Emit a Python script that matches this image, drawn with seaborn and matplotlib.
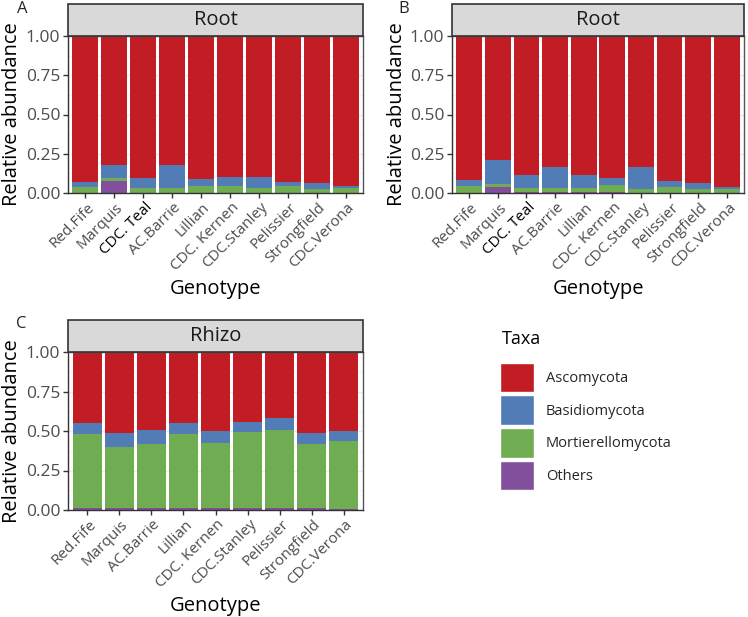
import numpy as np
import pandas as pd
import matplotlib
matplotlib.use("Agg")
import matplotlib.pyplot as plt
import matplotlib.transforms as mtransforms
from matplotlib.patches import Rectangle, Patch
import seaborn as sns

# Genotype order per panel
genotypes_root = ["Red.Fife", "Marquis", "CDC. Teal", "AC.Barrie", "Lillian",
                  "CDC. Kernen", "CDC.Stanley", "Pelissier", "Strongfield", "CDC.Verona"]
genotypes_rhizo = ["Red.Fife", "Marquis", "AC.Barrie", "Lillian", "CDC. Kernen",
                   "CDC.Stanley", "Pelissier", "Strongfield", "CDC.Verona"]

taxa = ["Ascomycota", "Basidiomycota", "Mortierellomycota", "Others"]
taxa_colors = ["#C21D24", "#517CB5", "#70AC52", "#814F9B"]

# Panel A - Root
a_asco = [0.927, 0.822, 0.905, 0.822, 0.911, 0.900, 0.898, 0.930, 0.934, 0.953]
a_basid = [0.036, 0.085, 0.060, 0.146, 0.047, 0.058, 0.072, 0.028, 0.043, 0.015]
a_mort = [0.034, 0.018, 0.032, 0.029, 0.039, 0.039, 0.027, 0.040, 0.021, 0.030]
a_other = [0.003, 0.075, 0.003, 0.003, 0.003, 0.003, 0.003, 0.002, 0.002, 0.002]

# Panel B - Root
b_asco = [0.919, 0.790, 0.885, 0.834, 0.883, 0.907, 0.837, 0.926, 0.938, 0.964]
b_basid = [0.039, 0.153, 0.081, 0.134, 0.085, 0.044, 0.140, 0.036, 0.039, 0.013]
b_mort = [0.039, 0.021, 0.029, 0.024, 0.027, 0.044, 0.020, 0.036, 0.021, 0.021]
b_other = [0.003, 0.036, 0.005, 0.008, 0.005, 0.005, 0.003, 0.002, 0.002, 0.002]

# Panel C - Rhizo
c_asco = [0.451, 0.511, 0.496, 0.447, 0.498, 0.441, 0.417, 0.511, 0.498]
c_basid = [0.066, 0.089, 0.084, 0.070, 0.078, 0.065, 0.075, 0.074, 0.066]
c_mort = [0.473, 0.390, 0.408, 0.469, 0.412, 0.484, 0.493, 0.405, 0.432]
c_other = [0.010, 0.010, 0.012, 0.014, 0.012, 0.010, 0.015, 0.010, 0.004]

sns.set_theme(style="ticks")
plt.rcParams["font.family"] = ["Open Sans", "DejaVu Sans"]

W, H = 748, 617
fig = plt.figure(figsize=(W / 100, H / 100), dpi=100)


def px_axes(left, top, right, bottom):
    return fig.add_axes([left / W, 1 - bottom / H, (right - left) / W, (bottom - top) / H])


def stacked(ax, genos, asco, basid, mort, other, strip_label, letter, black_label=None):
    df = pd.DataFrame({"Genotype": genos, "Ascomycota": asco, "Basidiomycota": basid,
                       "Mortierellomycota": mort, "Others": other})
    # cumulative tops, drawn from the tallest layer down
    layers = [taxa[::-1][: i + 1] for i in range(4)][::-1]
    for layer, col in zip(layers, taxa_colors):
        df["top"] = df[layer].sum(axis=1)
        sns.barplot(data=df, x="Genotype", y="top", order=genos, color=col,
                    saturation=1, width=0.9, linewidth=0, ax=ax, zorder=2)

    n = len(genos)
    ax.set_xlim(-0.6, n - 0.4)
    ax.set_ylim(0, 1)
    ax.set_yticks([0, 0.25, 0.5, 0.75, 1.0])
    ax.set_yticklabels(["0.00", "0.25", "0.50", "0.75", "1.00"])
    ax.set_yticks([0.125, 0.375, 0.625, 0.875], minor=True)
    ax.grid(True, which="major", color="#EBEBEB", linewidth=1, zorder=0)
    ax.grid(True, which="minor", axis="y", color="#F3F3F3", linewidth=0.6, zorder=0)
    ax.set_axisbelow(True)
    ax.tick_params(axis="both", which="major", length=3.6, width=1, color="#333333",
                   labelcolor="#4D4D4D")
    ax.tick_params(axis="y", labelsize=12.5, pad=2)
    ax.tick_params(axis="y", which="minor", length=0)
    ax.tick_params(axis="x", labelsize=11, pad=7)
    shift = mtransforms.ScaledTranslation(9 / 100, 0, fig.dpi_scale_trans)
    for lab in ax.get_xticklabels():
        lab.set_rotation(45)
        lab.set_ha("right")
        lab.set_va("baseline")
        lab.set_rotation_mode("anchor")
        lab.set_transform(lab.get_transform() + shift)
        if lab.get_text() == black_label:
            lab.set_color("black")
    for side, sp in ax.spines.items():
        sp.set_visible(True)
        sp.set_color("#555555")
        sp.set_linewidth(1)
    ax.spines["left"].set_color("#333333")
    ax.spines["bottom"].set_color("#333333")

    ax.set_xlabel("Genotype", fontsize=14.5, color="black", va="center")
    ax.set_ylabel("Relative abundance", fontsize=14.5, color="black", va="center")
    ax.xaxis.set_label_coords(0.5, -0.61)
    ax.yaxis.set_label_coords(-0.19, 0.5)

    # facet strip
    h = ax.get_position().height * H
    sh = 32 / h
    ax.add_patch(Rectangle((0, 1), 1, sh, transform=ax.transAxes, clip_on=False,
                           facecolor="#D9D9D9", edgecolor="#333333", linewidth=1.2, zorder=5))
    ax.text(0.5, 1 + sh / 2, strip_label, transform=ax.transAxes, ha="center", va="center",
            fontsize=14.5, color="#1A1A1A", zorder=6)
    fig.text(letter[1] / W, 1 - letter[2] / H, letter[0], fontsize=12, ha="left", va="center")


ax_a = px_axes(68, 36, 363, 193)
stacked(ax_a, genotypes_root, a_asco, a_basid, a_mort, a_other, "Root", ("A", 17, 9), "CDC. Teal")

ax_b = px_axes(452, 36, 744, 193)
stacked(ax_b, genotypes_root, b_asco, b_basid, b_mort, b_other, "Root", ("B", 398, 9), "CDC. Teal")

ax_c = px_axes(68, 352, 363, 510)
stacked(ax_c, genotypes_rhizo, c_asco, c_basid, c_mort, c_other, "Rhizo", ("C", 16, 324))

# legend: title placed on its own, keys below it
fig.text(502 / W, 1 - 339 / H, "Taxa", fontsize=13, ha="left", va="center", color="black")
handles = [Patch(facecolor=c, edgecolor="white", linewidth=1) for c in taxa_colors]
leg = fig.legend(handles, taxa, loc="upper left", bbox_to_anchor=(494 / W, 1 - 357 / H),
                 frameon=False, fontsize=10.5,
                 handlelength=2.36, handleheight=2.75, labelspacing=0.2, handletextpad=0.8,
                 borderaxespad=0)

fig.savefig("out.png", dpi=100)
